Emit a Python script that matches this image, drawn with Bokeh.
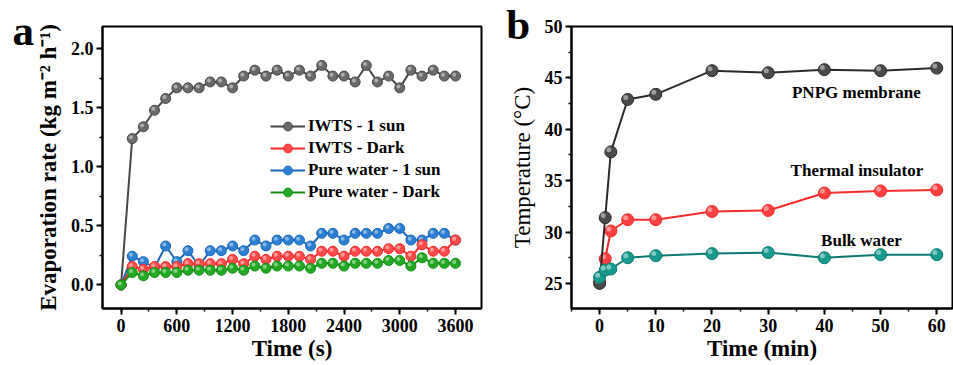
from bokeh.plotting import figure
from bokeh.layouts import row
from bokeh.models import (Legend, LegendItem, SingleIntervalTicker, Range1d,
                          NumeralTickFormatter, ColumnDataSource)
from bokeh.transform import dodge
from bokeh.embed import file_html
from bokeh.resources import INLINE
from bokeh.core.properties import value

SERIF = "Liberation Serif"

# ---- panel a: evaporation rate vs time ----
time_s = [0, 120, 240, 360, 480, 600, 720, 840, 960, 1080, 1200, 1320, 1440,
          1560, 1680, 1800, 1920, 2040, 2160, 2280, 2400, 2520, 2640, 2760,
          2880, 3000, 3120, 3240, 3360, 3480, 3600]
iwts_sun = [0.0, 1.24, 1.34, 1.48, 1.58, 1.67, 1.67, 1.67, 1.72, 1.72, 1.67,
            1.77, 1.82, 1.77, 1.82, 1.77, 1.82, 1.77, 1.86, 1.77, 1.77, 1.72,
            1.86, 1.72, 1.77, 1.67, 1.82, 1.77, 1.82, 1.77, 1.77]
iwts_dark = [0.0, 0.155, 0.133, 0.155, 0.155, 0.155, 0.18, 0.18, 0.18, 0.18,
             0.216, 0.18, 0.243, 0.216, 0.243, 0.243, 0.243, 0.216, 0.285,
             0.285, 0.243, 0.285, 0.285, 0.285, 0.307, 0.307, 0.243, 0.34,
             0.285, 0.285, 0.38]
pure_sun = [0.0, 0.243, 0.197, 0.147, 0.33, 0.197, 0.29, 0.16, 0.29, 0.29,
            0.33, 0.29, 0.38, 0.33, 0.38, 0.38, 0.38, 0.33, 0.437, 0.437,
            0.38, 0.437, 0.437, 0.437, 0.478, 0.478, 0.38, 0.38, 0.437,
            0.437, 0.38]
pure_dark = [0.0, 0.105, 0.077, 0.105, 0.105, 0.105, 0.124, 0.124, 0.124,
             0.124, 0.141, 0.124, 0.16, 0.141, 0.16, 0.16, 0.16, 0.141, 0.183,
             0.183, 0.16, 0.183, 0.183, 0.183, 0.207, 0.207, 0.16, 0.23,
             0.183, 0.183, 0.183]

# ---- panel b: surface temperatures vs time ----
time_min = [0, 1, 2, 5, 10, 20, 30, 40, 50, 60]
membrane_t = [25.0, 31.4, 37.8, 42.9, 43.4, 45.7, 45.5, 45.8, 45.7, 45.95]
insulator_t = [25.15, 27.4, 30.1, 31.2, 31.2, 32.0, 32.1, 33.8, 34.0, 34.1]
bulk_t = [25.6, 26.3, 26.4, 27.5, 27.7, 27.9, 28.0, 27.5, 27.8, 27.8]


def style_axes(p, xlabel, ylabel, ylabel_style):
    p.grid.visible = False
    p.outline_line_color = "black"
    p.outline_line_width = 2
    p.background_fill_color = "white"
    p.border_fill_color = "white"
    for ax in p.xaxis + p.yaxis:
        ax.axis_line_width = 2
        ax.major_tick_line_width = 2
        ax.minor_tick_line_width = 1.5
        ax.major_tick_in = 0
        ax.major_tick_out = 6
        ax.minor_tick_in = 0
        ax.minor_tick_out = 3
        ax.major_label_text_font = SERIF
        ax.major_label_text_font_style = "bold"
        ax.major_label_text_font_size = "18px"
        ax.major_label_text_color = "black"
        ax.axis_label_text_font = SERIF
        ax.axis_label_text_font_size = "23px"
        ax.axis_label_text_color = "black"
    p.xaxis.axis_label = xlabel
    p.xaxis.axis_label_text_font_style = "bold"
    p.xaxis.major_label_standoff = 4
    p.xaxis.axis_label_standoff = 1
    p.yaxis.axis_label = ylabel
    p.yaxis.axis_label_text_font_style = ylabel_style
    p.yaxis.major_label_standoff = 3
    p.yaxis.axis_label_standoff = 7


def panel_letter(p, x, y, letter):
    # big bold panel tag, drawn on the overlay level so it sits outside the frame
    r = p.text(x=[x], y=[y], text=[letter], text_font=value(SERIF),
               text_font_style="bold", text_font_size="43px",
               text_color="black", text_align="left",
               text_baseline="alphabetic")
    r.level = "overlay"
    return r


def ball_series(p, xs, ys, line_color, fill_color, size, dx, dy, hl_size):
    # line + ball markers with a small specular highlight up-left of each ball
    src = ColumnDataSource(dict(x=xs, y=ys))
    ln = p.line("x", "y", source=src, line_color=line_color, line_width=2)
    sc = p.scatter("x", "y", source=src, size=size, fill_color=fill_color,
                   line_color=line_color, line_width=1)
    p.scatter(dodge("x", dx), dodge("y", dy), source=src, size=hl_size,
              fill_color="white", fill_alpha=0.45, line_color=None)
    return [ln, sc]


pa = figure(width=490, height=365, output_backend="svg", toolbar_location=None,
            x_range=Range1d(-200, 3880), y_range=Range1d(-0.2, 2.19),
            min_border_left=102, min_border_right=9, min_border_top=22,
            min_border_bottom=55)
style_axes(pa, "Time (s)", "Evaporation rate (kg m\u207b\u00b2 h\u207b\u00b9)", "bold")
pa.xaxis.ticker = SingleIntervalTicker(interval=600, num_minor_ticks=2)
pa.yaxis.ticker = SingleIntervalTicker(interval=0.5, num_minor_ticks=2)
pa.yaxis.formatter = NumeralTickFormatter(format="0.0")

series_a = [
    ("IWTS - 1 sun", iwts_sun, "#474747", "#6a6a6a"),
    ("Pure water - 1 sun", pure_sun, "#1d68b8", "#2b7fd2"),
    ("IWTS - Dark", iwts_dark, "#f52a2a", "#ff4a4a"),
    ("Pure water - Dark", pure_dark, "#128f12", "#22a822"),
]
handles = {}
for name, ys, lc, fc in series_a:
    handles[name] = ball_series(pa, time_s, ys, lc, fc, 10, -14, 0.012, 4)

legend = Legend(items=[LegendItem(label=n, renderers=handles[n]) for n in
                       ["IWTS - 1 sun", "IWTS - Dark", "Pure water - 1 sun",
                        "Pure water - Dark"]],
                location=(168, 105), padding=0, margin=0, spacing=0,
                glyph_width=35, glyph_height=22, label_height=22,
                label_standoff=3, border_line_color=None,
                background_fill_alpha=0,
                label_text_font=SERIF, label_text_font_style="bold",
                label_text_font_size="17px", label_text_color="black")
pa.add_layout(legend)
panel_letter(pa, -1169, 2.155, "a")

# ---- panel b ----
pb = figure(width=463, height=365, output_backend="svg", toolbar_location=None,
            x_range=Range1d(-5, 62.8), y_range=Range1d(22.56, 50),
            min_border_left=81, min_border_right=1, min_border_top=26,
            min_border_bottom=57)
style_axes(pb, "Time (min)", "Temperature (\u00b0C)", "normal")
pb.xaxis.ticker = SingleIntervalTicker(interval=10, num_minor_ticks=2)
pb.yaxis.ticker = SingleIntervalTicker(interval=5, num_minor_ticks=2)

for ys, lc, fc in [(insulator_t, "#f52a2a", "#ff4040"),
                   (membrane_t, "#2a2a2a", "#4a4a4a"),
                   (bulk_t, "#0c7a71", "#169a8f")]:
    ball_series(pb, time_min, ys, lc, fc, 12, -0.35, 0.2, 5)

pb.text(x=[45.7, 45.8, 46.6], y=[43.6, 36.0, 29.2],
        text=["PNPG membrane", "Thermal insulator", "Bulk water"],
        text_font=value(SERIF), text_font_style="bold", text_font_size="17px",
        text_color="black", text_align="center", text_baseline="middle")
panel_letter(pb, -16.6, 50.15, "b")

layout = row(pa, pb)
open("out.html", "w").write(file_html(layout, INLINE))
